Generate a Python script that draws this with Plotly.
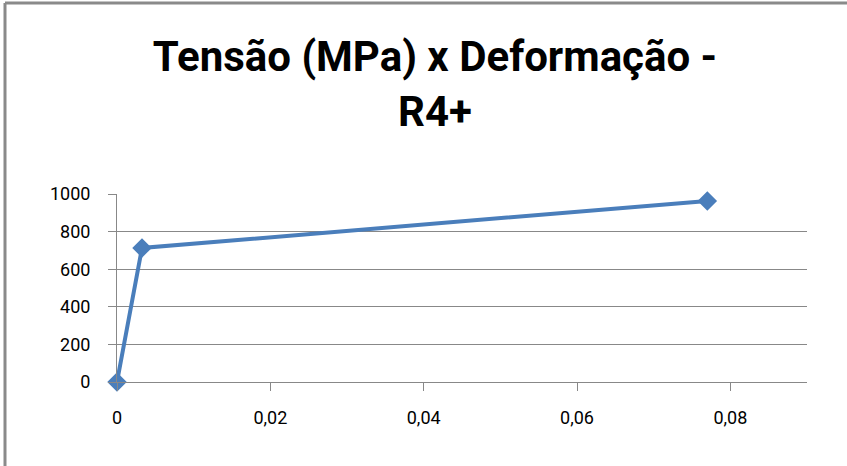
import plotly.graph_objects as go

strain = [0.0, 0.00326, 0.0770]
stress = [0, 713, 963]
x_ticks = [0, 0.02, 0.04, 0.06, 0.08]
x_labels = ["0", "0,02", "0,04", "0,06", "0,08"]
y_ticks = [0, 200, 400, 600, 800, 1000]
y_labels = ["0", "200", "400", "600", "800", "1000"]
title_text = "Tensão (MPa) x Deformação -<br>R4+"

TITLE_FONT = "Roboto, Liberation Sans, sans-serif"
TICK_FONT = "Roboto, Liberation Sans, sans-serif"
GRID = "#888888"

fig = go.Figure()
fig.add_trace(go.Scatter(
    x=strain, y=stress, mode="lines+markers",
    line=dict(color="#4A7EBB", width=4),
    marker=dict(symbol="diamond", size=15, color="#4A7EBB"),
    showlegend=False, cliponaxis=False,
))

W, H = 847, 466
ml, mr, mt, mb = 117, 40, 194, 84
pw, ph = W - ml - mr, H - mt - mb

def px_x(p):
    return (p - ml) / pw

def px_y(p):
    return (H - mb - p) / ph

fig.update_layout(
    width=W, height=H,
    margin=dict(l=ml, r=mr, t=mt, b=mb, pad=0),
    paper_bgcolor="white", plot_bgcolor="white",
    font=dict(family=TICK_FONT, color="#000000"),
    title=dict(text=title_text, xref="container", x=435 / W,
               xanchor="center", yref="container", y=1 - 71 / H, yanchor="middle",
               font=dict(family=TITLE_FONT, size=42, color="#000000", weight="bold")),
    xaxis=dict(range=[0, 0.09], tickvals=x_ticks, ticktext=x_labels,
               showgrid=False, showline=True, linecolor=GRID, linewidth=1,
               ticks="outside", ticklen=8, tickcolor=GRID, tickwidth=1,
               ticklabelstandoff=11, zeroline=False,
               tickfont=dict(family=TICK_FONT, size=18, color="#000000")),
    yaxis=dict(range=[0, 1000], tickvals=y_ticks, ticktext=y_labels,
               showgrid=True, gridcolor=GRID, gridwidth=1,
               showline=True, linecolor=GRID, linewidth=1,
               ticks="outside", ticklen=8, tickcolor=GRID, tickwidth=1,
               ticklabelstandoff=14, zeroline=False,
               tickfont=dict(family=TICK_FONT, size=18, color="#000000")),
    shapes=[
        dict(type="line", xref="paper", yref="paper",
             x0=px_x(5), x1=px_x(5), y0=px_y(3), y1=px_y(H + 5),
             line=dict(color="#8a8a8a", width=3)),
        dict(type="line", xref="paper", yref="paper",
             x0=px_x(5), x1=px_x(W + 5), y0=px_y(3), y1=px_y(3),
             line=dict(color="#8a8a8a", width=3)),
    ],
)

fig.write_html("out.html")
